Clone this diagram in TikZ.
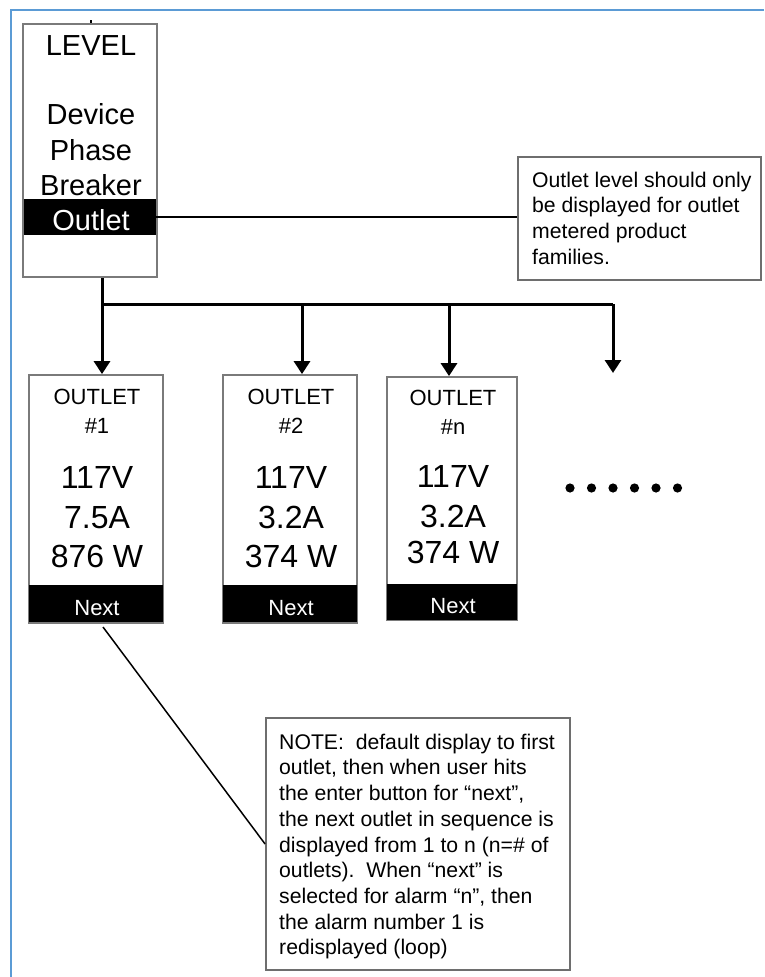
\documentclass[tikz,border=0pt]{standalone}
\usepackage{fontspec}
\setmainfont{Liberation Sans}
\usetikzlibrary{arrows.meta}
\definecolor{frameblue}{HTML}{5B9BD5}
\definecolor{boxgray}{HTML}{7A7A7A}
\begin{document}
\begin{tikzpicture}[x=1pt,y=-1pt,
  screen/.style={draw=boxgray,line width=1.8pt,inner sep=0pt},
  bar/.style={fill=black,draw=none,inner sep=0pt},
  notebox/.style={draw=boxgray!90!black,line width=1.8pt,inner sep=0pt},
  lvltxt/.style={anchor=base,inner sep=0pt,font=\fontsize{29}{35}\selectfont},
  smalltxt/.style={anchor=base,inner sep=0pt,font=\fontsize{22}{26}\selectfont},
  bigtxt/.style={anchor=base,inner sep=0pt,font=\fontsize{32}{40}\selectfont},
  nexttxt/.style={anchor=base,inner sep=0pt,text=white,font=\fontsize{22}{26}\selectfont},
  notetxt/.style={anchor=north west,inner sep=0pt,align=left,font=\fontsize{21.2}{25.7}\selectfont},
  link/.style={line width=1.5pt},
  branch/.style={line width=3pt},
  arrowline/.style={line width=3pt,-{Triangle[width=16pt,length=13pt]}},
]
\useasboundingbox (0,0) rectangle (764,977);
% blue frame
\draw[frameblue,line width=2.2pt] (11,977) -- (11,10) -- (764,10);

% LEVEL box
\node[screen,minimum width=134pt,minimum height=253pt] (level) at (90,150.5) {};
\draw[line width=1.2pt] (91,20) -- (level.north -| 91,0);
\node[bar,minimum width=132pt,minimum height=36pt] (lvlbar) at (90,217) {};
\node[lvltxt] (tlevel) at (91,55) {LEVEL};
\node[lvltxt] (tdevice) at (91,124) {Device};
\node[lvltxt] (tphase) at (91,160) {Phase};
\node[lvltxt] (tbreaker) at (91,195) {Breaker};
\node[lvltxt,text=white] (toutlet) at (91,230) {Outlet};

% note 1
\node[notebox,minimum width=243pt,minimum height=123pt] (note1) at (639.5,218.5) {};
\node[notetxt] (note1t) at (532,169) {\strut Outlet level should only\\be displayed for outlet\\metered product\\families.};
\draw[link] (lvlbar.east) -- (lvlbar.east -| note1.west);

% outlet boxes
\node[screen,minimum width=134pt,minimum height=248pt] (box1) at (96,499) {};
\node[bar,minimum width=134pt,minimum height=37pt] (bar1) at (96,603.5) {};
\node[smalltxt] (o1a) at (97,404) {OUTLET};
\node[smalltxt] (o1b) at (97,433) {\#1};
\node[bigtxt] (o1c) at (97,488) {117V};
\node[bigtxt] (o1d) at (97,528) {7.5A};
\node[bigtxt] (o1e) at (97,567) {876 W};
\node[nexttxt] (o1f) at (97,615) {Next};

\node[screen,minimum width=134pt,minimum height=248pt] (box2) at (290,499) {};
\node[bar,minimum width=134pt,minimum height=37pt] (bar2) at (290,603.5) {};
\node[smalltxt] (o2a) at (291,404) {OUTLET};
\node[smalltxt] (o2b) at (291,433) {\#2};
\node[bigtxt] (o2c) at (291,488) {117V};
\node[bigtxt] (o2d) at (291,528) {3.2A};
\node[bigtxt] (o2e) at (291,567) {374 W};
\node[nexttxt] (o2f) at (291,615) {Next};

\node[screen,minimum width=130pt,minimum height=243pt] (box3) at (452,498.5) {};
\node[bar,minimum width=130pt,minimum height=36pt] (bar3) at (452,602) {};
\node[smalltxt] (o3a) at (453,405) {OUTLET};
\node[smalltxt] (o3b) at (453,434) {\#n};
\node[bigtxt] (o3c) at (453,487) {117V};
\node[bigtxt] (o3d) at (453,527) {3.2A};
\node[bigtxt] (o3e) at (453,563) {374 W};
\node[nexttxt] (o3f) at (453,613) {Next};

% branches
\coordinate (b0) at (102,304);
\coordinate (b1) at (302,304);
\coordinate (b2) at (449,304);
\coordinate (b3) at (613,304);
\coordinate (end4) at (613,373);
\draw[branch] (level.south -| b0) -- (b0);
\draw[branch] (b0) -- (b3);
\draw[arrowline] (b0) -- (box1.north -| b0);
\draw[arrowline] (b1) -- (box2.north -| b1);
\draw[arrowline] (b2) -- (box3.north -| b2);
\draw[arrowline] (b3) -- (end4);

% dots
\foreach \i in {0,...,5}
  \fill (570+21.5*\i,488) circle[radius=4.6pt];

% note 2
\node[notebox,minimum width=304pt,minimum height=252pt] (note2) at (418,844) {};
\node[notetxt] (note2t) at (279,731) {\strut NOTE:\ \ default display to first\\outlet, then when user hits\\the enter button for “next”,\\the next outlet in sequence is\\displayed from 1 to n (n=\# of\\outlets).\ \ When “next” is\\selected for alarm “n”, then\\the alarm number 1 is\\redisplayed (loop)};
\coordinate (d0) at (103,627);
\draw[link] (d0) -- (note2.west);
\end{tikzpicture}
\end{document}
